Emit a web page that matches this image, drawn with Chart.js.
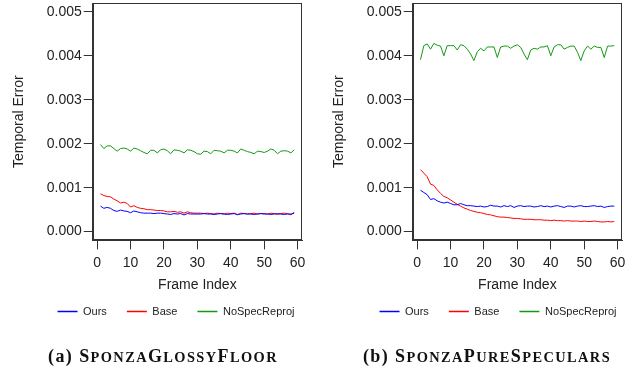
<!DOCTYPE html>
<html><head><meta charset="utf-8">
<script src="https://cdn.jsdelivr.net/npm/chart.js@4.4.1/dist/chart.umd.min.js"></script>
<style>
html,body{margin:0;padding:0;background:#fff;}
#wrap{position:relative;width:638px;height:368px;overflow:hidden;background:#fff;}
.panel{position:absolute;top:0;}
.cap{position:absolute;top:346px;font-family:"Liberation Serif",serif;font-weight:bold;font-size:18px;line-height:20px;text-align:center;color:#111;white-space:nowrap;letter-spacing:1.4px;}
.cap .sm{text-transform:uppercase;font-size:0.8em;}
</style></head><body>
<div id="wrap">
<canvas id="c1" class="panel" width="320" height="368" style="left:0px"></canvas>
<canvas id="c2" class="panel" width="318" height="368" style="left:320px"></canvas>
<div class="cap" id="cap1" style="left:0px;width:326px"></div>
<div class="cap" id="cap2" style="left:320px;width:334px"></div>
</div>
<script>
// ---------- data ----------
const frames = [1,2,3,4,5,6,7,8,9,10,11,12,13,14,15,16,17,18,19,20,21,22,23,24,25,26,27,28,29,30,
  31,32,33,34,35,36,37,38,39,40,41,42,43,44,45,46,47,48,49,50,51,52,53,54,55,56,57,58,59];
const seriesNames = ['Ours', 'Base', 'NoSpecReproj'];
const xTicks = [0, 10, 20, 30, 40, 50, 60];
const yTicks = [0, 0.001, 0.002, 0.003, 0.004, 0.005];
const panelTags = ['(a)', '(b)'];
const panelNames = ['SponzaGlossyFloor', 'SponzaPureSpeculars'];
const xTitle = 'Frame Index';
const yTitle = 'Temporal Error';

// (a) SponzaGlossyFloor
const glossyOurs = [0.00058,0.00053,0.00055,0.00053,0.00048,0.00046,0.00049,0.00047,0.00046,0.00043,
  0.00047,0.00045,0.00043,0.00042,0.00042,0.00042,0.00041,0.00042,0.00042,0.00041,
  0.0004,0.00039,0.00041,0.0004,0.00041,0.00038,0.00041,0.0004,0.0004,0.0004,
  0.0004,0.00041,0.0004,0.0004,0.00039,0.0004,0.00041,0.0004,0.00039,0.0004,
  0.00041,0.00039,0.0004,0.00041,0.0004,0.0004,0.00039,0.0004,0.00041,0.0004,
  0.0004,0.00039,0.0004,0.00041,0.0004,0.00039,0.0004,0.0004,0.00042];
const glossyBase = [0.00086,0.00082,0.0008,0.00079,0.00074,0.0007,0.00065,0.00067,0.00064,0.00056,
  0.00059,0.00055,0.00053,0.00052,0.0005,0.0005,0.00049,0.00048,0.00048,0.00047,
  0.00045,0.00045,0.00046,0.00044,0.00045,0.00042,0.00045,0.00043,0.00042,0.00042,
  0.00042,0.00041,0.00042,0.00041,0.0004,0.00042,0.00041,0.0004,0.00042,0.00041,
  0.00042,0.00038,0.00042,0.00041,0.0004,0.00041,0.00042,0.0004,0.00041,0.00041,
  0.0004,0.00042,0.00041,0.00039,0.00041,0.00042,0.00041,0.00038,0.00044];
const glossyNoSpec = [0.00198,0.00189,0.00195,0.00195,0.00189,0.00183,0.00189,0.0019,0.00188,0.00183,
  0.0019,0.00188,0.00184,0.0018,0.00177,0.00185,0.00185,0.00179,0.00186,0.00188,
  0.00184,0.00177,0.00186,0.00185,0.00183,0.00179,0.00186,0.00185,0.00182,0.00177,
  0.00176,0.00183,0.00182,0.00177,0.00185,0.00184,0.00183,0.00179,0.00185,0.00185,
  0.00183,0.00179,0.00188,0.00185,0.00182,0.0018,0.00177,0.00183,0.00182,0.0018,
  0.00183,0.00188,0.00185,0.00177,0.00183,0.00184,0.00183,0.00179,0.00186];

// (b) SponzaPureSpeculars
const pureOurs = [0.00094,0.00089,0.00084,0.00073,0.00075,0.0007,0.00067,0.00065,0.00067,0.00064,
  0.00061,0.00061,0.00064,0.00061,0.00059,0.00059,0.00058,0.00057,0.00058,0.00056,
  0.00057,0.0006,0.00058,0.00058,0.00056,0.00059,0.00057,0.00059,0.00055,0.00058,
  0.00059,0.00057,0.00058,0.00058,0.00056,0.00057,0.00059,0.00057,0.00058,0.00056,
  0.00058,0.00059,0.00057,0.00055,0.00058,0.00058,0.00056,0.00058,0.00059,0.00057,
  0.00057,0.00058,0.00059,0.00057,0.00058,0.00055,0.00057,0.00058,0.00058];
const pureBase = [0.00141,0.00133,0.00125,0.00108,0.00105,0.00095,0.00087,0.0008,0.00077,0.00072,
  0.00067,0.00062,0.00058,0.00054,0.00051,0.00048,0.00046,0.00044,0.00043,0.00041,
  0.00039,0.00038,0.00036,0.00034,0.00033,0.00033,0.00032,0.00031,0.0003,0.0003,
  0.00029,0.00028,0.00028,0.00028,0.00027,0.00027,0.00027,0.00026,0.00026,0.00025,
  0.00026,0.00025,0.00025,0.00024,0.00025,0.00024,0.00024,0.00024,0.00023,0.00024,
  0.00023,0.00023,0.00024,0.00023,0.00022,0.00022,0.00023,0.00022,0.00023];
const pureNoSpec = [0.00391,0.00423,0.00427,0.00415,0.00428,0.00424,0.00422,0.004,0.00423,0.00423,
  0.00423,0.00413,0.00425,0.00423,0.00415,0.00404,0.00389,0.00409,0.00417,0.00411,
  0.0042,0.0042,0.0042,0.00396,0.0042,0.00422,0.00422,0.00417,0.00422,0.00425,
  0.00419,0.00404,0.00391,0.00413,0.00417,0.00415,0.0042,0.0042,0.00423,0.004,
  0.0042,0.00425,0.00425,0.00415,0.00419,0.00422,0.00422,0.00408,0.00389,0.00411,
  0.00422,0.00415,0.00422,0.00419,0.00419,0.00396,0.00422,0.00422,0.00423];

const colors = ['#0000ff', '#ff0000', '#139913'];

// ---------- helpers ----------
Chart.defaults.font.family = '"Liberation Sans", Arial, sans-serif';
Chart.defaults.color = '#222';

const plotBox = {
  id: 'plotBox',
  afterDatasetsDraw(chart) {
    const a = chart.chartArea, ctx = chart.ctx;
    ctx.save();
    ctx.strokeStyle = '#333';
    ctx.lineWidth = 1;
    const l = Math.round(a.left) + 0.5, t = Math.round(a.top) + 0.5;
    const r = Math.round(a.right) - 0.5, b = Math.round(a.bottom) - 0.5;
    ctx.strokeRect(l, t, r - l, b - t);
    ctx.restore();
  }
};
const legendShift = {
  id: 'legendShift',
  afterLayout(chart, args, opts) {
    const lg = chart.legend;
    if (lg && opts && opts.dx) { lg.left += opts.dx; lg.right += opts.dx; }
  }
};

// legend keys: thin bars in each series colour
function legendLabels(chart) {
  return chart.data.datasets.map((ds, i) => ({
    text: ds.label,
    fillStyle: colors[i],
    strokeStyle: colors[i],
    lineWidth: 0,
    hidden: false,
    datasetIndex: i,
    fontColor: '#222'
  }));
}

function makeChart(id, ours, base, nospec, padRight, dx) {
  const sets = [ours, base, nospec].map((vals, k) => ({
    label: seriesNames[k],
    data: frames.map((f, i) => ({x: f, y: vals[i]})),
    borderColor: colors[k],
    backgroundColor: colors[k],
    borderWidth: 1,
    pointRadius: 0,
    tension: 0,
    fill: false
  }));
  const tickFont = {size: 14};
  return new Chart(document.getElementById(id), {
    type: 'line',
    data: {datasets: sets},
    options: {
      responsive: false,
      animation: false,
      devicePixelRatio: 1,
      layout: {padding: {left: 0, right: padRight, top: 3, bottom: 41}},
      plugins: {
        tooltip: {enabled: false},
        legend: {
          position: 'bottom',
          labels: {usePointStyle: false, boxWidth: 20, boxHeight: 1.5, padding: 20,
                   color: '#222', font: {size: 11}, generateLabels: legendLabels}
        },
        legendShift: {dx: dx}
      },
      scales: {
        x: {
          type: 'linear', min: -1.32, max: 61.32,
          afterBuildTicks: s => { s.ticks = xTicks.map(v => ({value: v})); },
          grid: {drawOnChartArea: false, drawTicks: true, tickLength: 9, color: '#333', tickColor: '#333'},
          border: {display: true, color: '#333'},
          ticks: {padding: 5, font: tickFont, color: '#222', maxRotation: 0, autoSkip: false,
                  callback: v => String(v)},
          title: {display: true, text: xTitle, font: {size: 14}, color: '#222', padding: {top: 1, bottom: -8}}
        },
        y: {
          type: 'linear', min: -0.0002, max: 0.0052,
          afterBuildTicks: s => { s.ticks = yTicks.map(v => ({value: v})); },
          afterFit: s => { s.paddingTop = 0; s.paddingBottom = 0; },
          grid: {drawOnChartArea: false, drawTicks: true, tickLength: 9, color: '#333', tickColor: '#333'},
          border: {display: true, color: '#333'},
          ticks: {padding: 2, font: tickFont, color: '#222', autoSkip: false,
                  callback: v => Number(v).toFixed(3)},
          title: {display: true, text: yTitle, font: {size: 14}, color: '#222', padding: {top: 10.6, bottom: 17.3}}
        }
      }
    },
    plugins: [plotBox, legendShift]
  });
}

makeChart('c1', glossyOurs, glossyBase, glossyNoSpec, 18, 25);
makeChart('c2', pureOurs, pureBase, pureNoSpec, 16, 27);

// captions: capitals full size, lower-case letters as small capitals
[['cap1', 0], ['cap2', 1]].forEach(([id, k]) => {
  const el = document.getElementById(id);
  el.appendChild(document.createTextNode(panelTags[k] + ' '));
  const runs = panelNames[k].match(/[A-Z]+|[^A-Z]+/g);
  runs.forEach(run => {
    if (/^[A-Z]+$/.test(run)) {
      el.appendChild(document.createTextNode(run));
    } else {
      const sp = document.createElement('span');
      sp.className = 'sm';
      sp.textContent = run;
      el.appendChild(sp);
    }
  });
});
</script>
</body></html>
